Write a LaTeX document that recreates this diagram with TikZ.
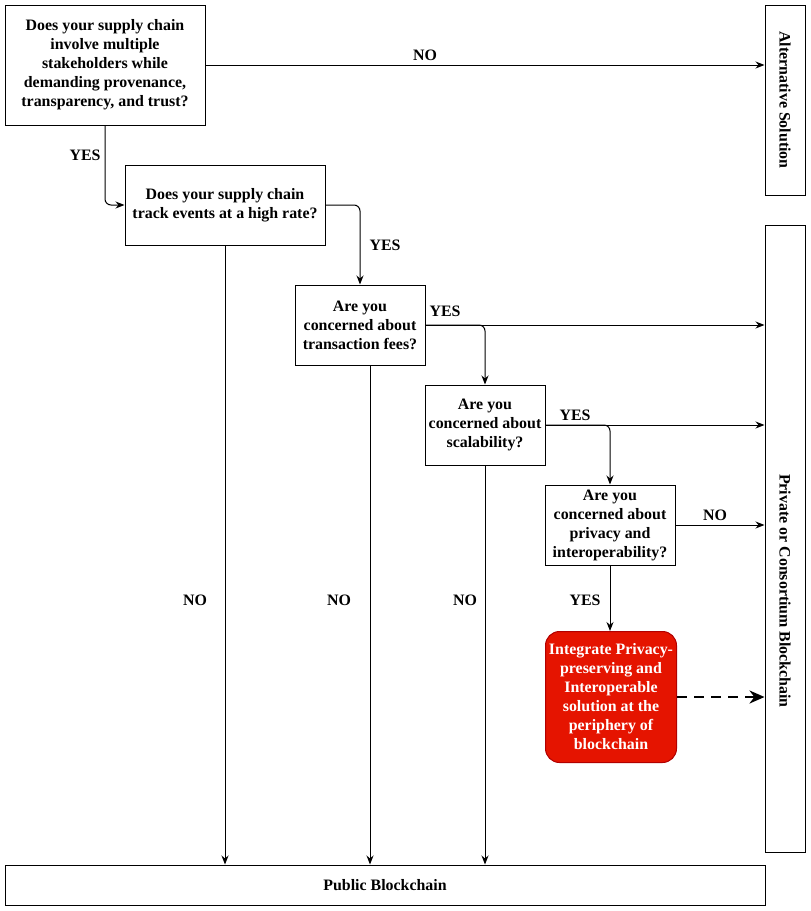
\documentclass[tikz,border=0pt]{standalone}
\usepackage{fontspec}
\setmainfont{Liberation Serif}
\usetikzlibrary{arrows.meta,calc}
\definecolor{drawred}{HTML}{E51400}
\definecolor{drawredline}{HTML}{B20000}
\begin{document}
\begin{tikzpicture}[x=1pt,y=-1pt,
  font=\fontsize{15.9}{19}\selectfont\bfseries,
  box/.style={draw,line width=1pt,rectangle,align=center,inner sep=0pt},
  redbox/.style={box,draw=drawredline,fill=drawred,text=white,rounded corners=14pt},
  arr/.style={-{Stealth[length=9pt,width=7pt]},line width=1pt,rounded corners=6pt},
  darr/.style={-{Stealth[length=15pt,width=13pt]},line width=2.8pt,dash pattern=on 10pt off 7pt},
  lbl/.style={inner sep=0pt}]
\useasboundingbox (0,0) rectangle (811,911);
\node[box,minimum width=200pt,minimum height=120pt] (b1) at (105,65) {Does your supply chain\\involve multiple\\stakeholders while\\demanding provenance,\\transparency, and trust?};
\node[box,minimum width=200pt,minimum height=80pt] (b2) at (225,205) {Does your supply chain\\track events at a high rate?};
\node[box,minimum width=130pt,minimum height=80pt] (b3) at (360,325) {Are you\\concerned about\\transaction fees?};
\node[box,minimum width=120pt,minimum height=80pt] (b4) at (485,425) {Are you\\concerned about\\scalability?};
\node[box,minimum width=130pt,minimum height=80pt] (b5) at (610,525) {Are you\\concerned about\\privacy and\\interoperability?};
\node[redbox,minimum width=131pt,minimum height=131pt] (rb) at (611,697) {Integrate Privacy-\\preserving and\\Interoperable\\solution at the\\periphery of\\blockchain};
\node[box,minimum width=40pt,minimum height=190pt] (alt) at (785,100) {};
\node[rotate=-90,lbl] (altt) at (alt.center) {Alternative Solution};
\node[box,minimum width=40pt,minimum height=627pt] (prv) at (785,538.5) {};
\node[rotate=-90,lbl] (prvt) at (785,591) {Private or Consortium Blockchain};
\node[box,minimum width=760pt,minimum height=40pt] (pub) at (385,885) {Public Blockchain};
% connectors
\draw[arr] (b1.east) -- (b1.east -| alt.west);
\node[lbl] at (425,55) {NO};
\draw[arr] (b1.south) |- (b2.west);
\node[lbl] at (85,155) {YES};
\draw[arr] (b2.east) -| (b3.north);
\node[lbl] at (385,245) {YES};
\draw[arr] (b3.east) -- (b3.east -| prv.west);
\coordinate (j3) at (b3.east);
\draw[arr] (j3) -| (b4.north);
\node[lbl] at (445,311) {YES};
\draw[arr] (b4.east) -- (b4.east -| prv.west);
\coordinate (j4) at (b4.east);
\draw[arr] (j4) -| (b5.north);
\node[lbl] at (575,415) {YES};
\draw[arr] (b5.east) -- (b5.east -| prv.west);
\node[lbl] at (715,515) {NO};
\draw[arr] (b5.south) -- (rb.north -| b5.south);
\node[lbl] at (585,600) {YES};
\draw[darr] (rb.east) -- (rb.east -| prv.west);
\draw[arr] (b2.south) -- (b2.south |- pub.north);
\node[lbl] at (195,600) {NO};
\draw[arr] ([xshift=10pt]b3.south) -- ([xshift=10pt]b3.south |- pub.north);
\node[lbl] at (339,600) {NO};
\draw[arr] (b4.south) -- (b4.south |- pub.north);
\node[lbl] at (465,600) {NO};
\end{tikzpicture}
\end{document}
